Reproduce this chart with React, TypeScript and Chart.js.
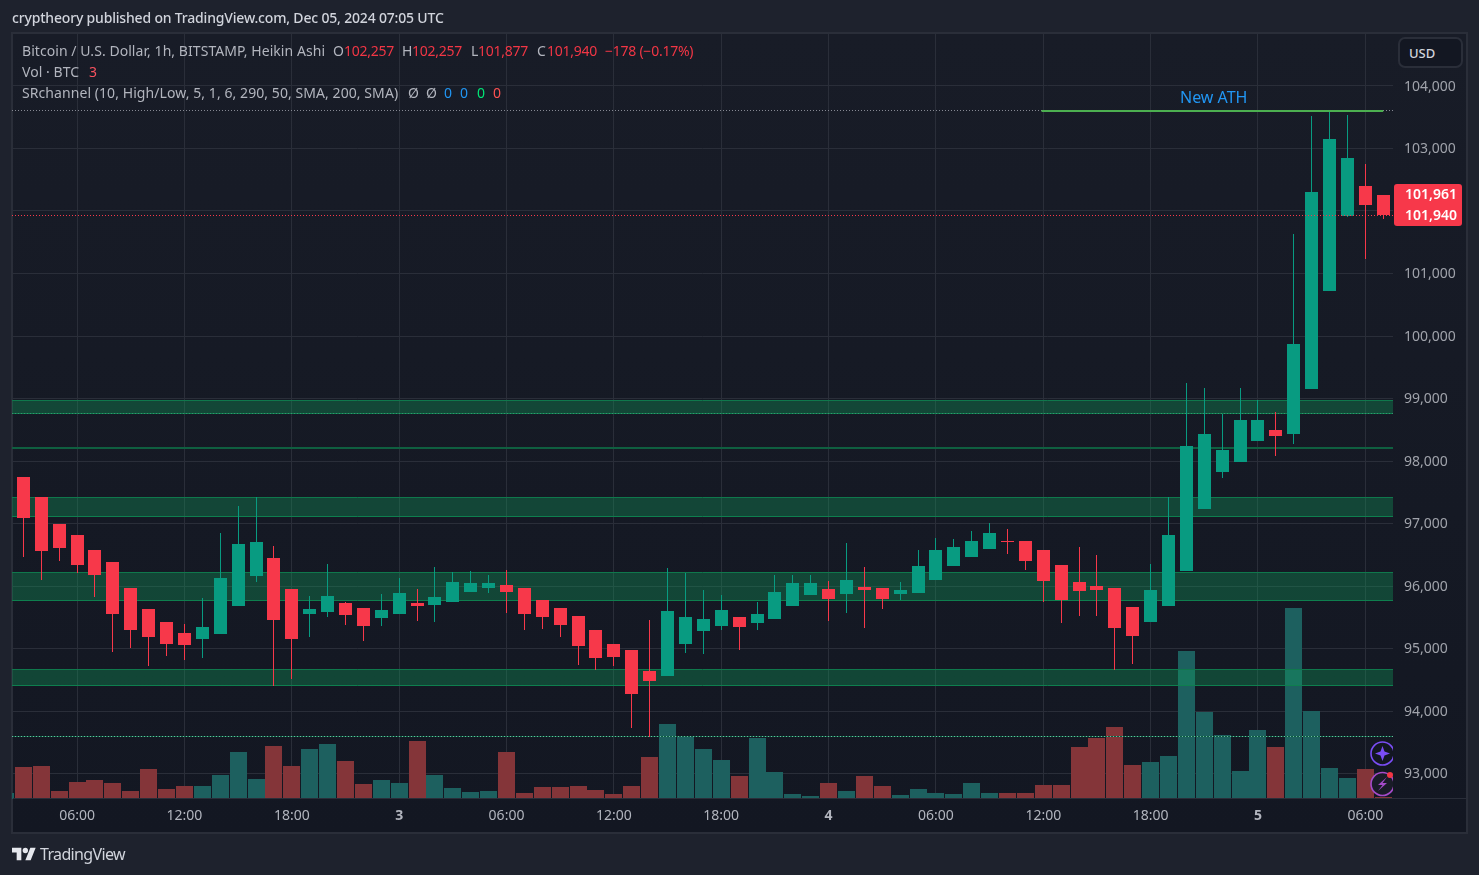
import React, { useEffect, useRef } from "react";
import { Chart, registerables } from "chart.js";

Chart.register(...registerables);

// Hourly Heikin Ashi candles, Dec 2 03:00 to Dec 5 07:00 UTC
const opens = [97744,97424,96992,96816,96576,96384,95968,95632,95424,95248,95157,95237,95685,96165,96448,95952,95557,95589,95728,95648,95493,95557,95728,95701,95749,95909,95973,96016,95968,95776,95648,95520,95296,95072,94976,94640,94565,95077,95285,95365,95504,95413,95477,95685,95861,95952,95877,95984,95968,95877,95893,96101,96325,96469,96597,96720,96720,96576,96336,96064,96000,95968,95664,95429,95685,96245,97237,97829,97989,98325,98496,98437,99152,100720,101925,102400,102257];
const closes = [97093,96565,96613,96336,96176,95557,95301,95189,95077,95061,95344,96128,96672,96704,95461,95157,95632,95840,95541,95365,95616,95888,95685,95824,96064,96048,96048,95909,95557,95509,95381,95045,94853,94869,94277,94485,95600,95504,95472,95616,95349,95552,95904,96048,96048,95797,96096,95941,95797,95936,96320,96576,96624,96720,96848,96704,96405,96085,95781,95925,95941,95333,95205,95936,96816,98240,98432,98176,98656,98656,98405,99872,102304,103152,102848,102101,101940];
const highs = [97744,97424,96992,96816,96576,96384,95968,95632,95424,95392,95808,96848,97280,97424,96640,95952,95840,96352,95744,95648,95872,96128,95952,96304,96224,96240,96176,96256,95968,95776,95648,95520,95296,95072,94976,95456,96288,96213,95936,95856,95504,95744,96176,96176,96176,96080,96688,96304,95968,96064,96576,96768,96752,96880,97008,96912,96720,96576,96336,96624,96496,95968,95664,96352,97424,99248,99168,98752,99168,98976,98784,101632,103520,103600,103536,102752,102257];
const lows = [96469,96101,96405,96213,95829,94949,95013,94725,94885,94821,94853,95237,95685,96069,94405,94517,95189,95509,95381,95125,95365,95557,95445,95429,95749,95909,95893,95573,95301,95317,95189,94741,94661,94725,93733,93589,94565,94933,94917,95301,94981,95301,95477,95685,95861,95445,95573,95333,95637,95781,95893,96101,96325,96469,96597,96517,96261,95749,95413,95525,95525,94661,94757,95429,95685,96245,97237,97733,97989,98325,98085,98277,99152,100720,101904,101237,101877];
const volumes = [64,66,16,34,38,32,16,60,20,26,26,48,94,40,106,66,100,110,76,30,38,32,116,48,22,14,16,94,12,24,24,26,18,10,26,84,150,126,100,78,46,122,54,10,6,32,16,46,26,8,20,12,10,32,12,12,12,28,28,104,122,144,68,74,86,296,174,128,56,138,104,382,176,62,42,60,4];
const previousVolume = 12;

// Time axis: candle position and label
const timeTickPositions = [3,9,15,21,27,33,39,45,51,57,63,69,75];
const timeTickLabels = ["06:00","12:00","18:00","3","06:00","12:00","18:00","4","06:00","12:00","18:00","5","06:00"];
const dayLabels = ["3","4","5"];
const priceTicks = [93000,94000,95000,96000,97000,98000,99000,100000,101000,102000,103000,104000];

// Support and resistance zones
const zoneTops = [98968,97416,96216,94664];
const zoneBottoms = [98760,97112,95768,94408];
const thinZone = 98208;
const athLevel = 103600;
const athStart = 56.9;
const athEnd = 76;
const greyLevel = 103608;
const zoneDottedLevel = 98760;
const lowerDottedLevel = 93592;
const priceLevel = 101928;

const X_MIN = -0.637;
const X_MAX = 76.545;
const Y_MIN = 92592;
const Y_MAX = 104832;
const VOL_MAX = 1530;

const UP = "#089b81";
const DOWN = "#f7384a";
const UP_VOL = "#1d605f";
const DOWN_VOL = "#843539";
const UI_FONT = "'Noto Sans', sans-serif";

const span = (v: number) => [{ x: X_MIN, y: v }, { x: X_MAX, y: v }];

const snapBars = {
  id: "snapBars",
  afterDatasetsUpdate(chart: any) {
    chart.data.datasets.forEach((ds: any, i: number) => {
      if (ds.type !== "bar") return;
      chart.getDatasetMeta(i).data.forEach((el: any) => {
        const w = el.width;
        el.x = Math.round(el.x - w / 2) + w / 2;
        const top = Math.round(Math.min(el.y, el.base));
        let bottom = Math.round(Math.max(el.y, el.base));
        if (bottom <= top) bottom = top + 1;
        el.y = top;
        el.base = bottom;
        el.height = bottom - top;
      });
    });
  },
};

function T({ x, y, c = "#b2b5be", s = 14, w = 400, ls = 0, children }: any) {
  return (
    <div style={{ position: "absolute", left: x, top: y, transform: "translateY(-50%)", color: c, fontSize: s, fontWeight: w, letterSpacing: ls, fontFamily: UI_FONT, whiteSpace: "nowrap", lineHeight: 1 }}>
      {children}
    </div>
  );
}

export default function App() {
  const ref = useRef<HTMLCanvasElement>(null);
  useEffect(() => {
    const isUp = opens.map((o, i) => closes[i] >= o);
    const idx = opens.map((_, i) => i);
    const levelLine = (data: any, color: string, order: number, dash: number[] = [], width = 1): any => ({
      type: "line", data, borderColor: color, borderWidth: width, borderDash: dash, pointRadius: 0, fill: false, order, yAxisID: "y", tension: 0,
    });
    const datasets: any[] = [
      {
        type: "bar", yAxisID: "yVol", order: 10, grouped: false, barThickness: 17, inflateAmount: 0,
        data: [{ x: -1, y: previousVolume }, ...idx.map((i) => ({ x: i, y: volumes[i] }))],
        backgroundColor: [UP_VOL, ...isUp.map((u) => (u ? UP_VOL : DOWN_VOL))],
      },
    ];
    zoneTops.forEach((top, i) => {
      datasets.push({
        type: "line", data: span(top), borderColor: "#0f784c", borderWidth: 1, pointRadius: 0,
        fill: "+1", backgroundColor: "rgba(15,165,95,0.33)", order: 8, yAxisID: "y",
      });
      datasets.push(levelLine(span(zoneBottoms[i]), "#0f784c", 8));
    });
    datasets.push(levelLine(span(thinZone), "#0f5f40", 8, [], 2));
    datasets.push(levelLine(span(lowerDottedLevel), "#0c5e40", 8));
    datasets.push(levelLine(span(zoneDottedLevel), "#3a8f70", 7, [1, 2]));
    datasets.push(levelLine(span(lowerDottedLevel), "#6fb8a2", 7, [1, 2]));
    datasets.push(levelLine(span(greyLevel), "#868993", 7, [1, 2]));
    datasets.push({
      type: "bar", yAxisID: "y", order: 5, grouped: false, barThickness: 1, inflateAmount: 0,
      data: idx.map((i) => ({ x: i, y: [lows[i], highs[i]] })),
      backgroundColor: isUp.map((u) => (u ? UP : DOWN)),
    });
    datasets.push({
      type: "bar", yAxisID: "y", order: 4, grouped: false, barThickness: 13, inflateAmount: 0,
      data: idx.map((i) => ({ x: i, y: [opens[i], closes[i]] })),
      backgroundColor: isUp.map((u) => (u ? UP : DOWN)),
    });
    datasets.push(levelLine(span(priceLevel), DOWN, 3, [1, 2]));
    datasets.push(levelLine([{ x: athStart, y: athLevel }, { x: athEnd, y: athLevel }], "#4caf50", 2, [], 2));

    const chart = new Chart(ref.current as HTMLCanvasElement, {
      type: "bar",
      data: { datasets },
      plugins: [snapBars],
      options: {
        animation: false,
        responsive: false,
        devicePixelRatio: 1,
        layout: { padding: { left: 12, top: 34, right: 0, bottom: 0 } },
        plugins: { legend: { display: false }, tooltip: { enabled: false } },
        scales: {
          x: {
            type: "linear", min: X_MIN, max: X_MAX, offset: false,
            grid: { color: "#2a2e39", drawTicks: false, lineWidth: 1, offset: false },
            border: { display: false },
            afterBuildTicks: (s: any) => { s.ticks = timeTickPositions.map((value) => ({ value })); },
            afterFit: (s: any) => { s.height = 76; },
            ticks: {
              autoSkip: false, maxRotation: 0, padding: 9, color: "#b2b5be",
              font: (c: any) => ({ family: UI_FONT, size: 14, weight: dayLabels.includes(c.tick?.label) ? "bold" : "normal" }),
              callback: (v: any) => timeTickLabels[timeTickPositions.indexOf(Number(v))] ?? "",
            },
          },
          y: {
            type: "linear", position: "right", min: Y_MIN, max: Y_MAX,
            grid: { color: "#2a2e39", drawTicks: false },
            border: { display: false },
            afterBuildTicks: (s: any) => { s.ticks = priceTicks.map((value) => ({ value })); },
            afterFit: (s: any) => { s.width = 86; },
            ticks: { padding: 11, labelOffset: 1, color: "#a0a3ab", font: { family: UI_FONT, size: 14 }, callback: (v: any) => Number(v).toLocaleString("en-US") },
          },
          yVol: { type: "linear", display: false, min: 0, max: VOL_MAX, grid: { display: false } },
        },
      } as any,
    });
    return () => chart.destroy();
  }, []);

  const red = "#f23645";
  return (
    <div style={{ position: "fixed", left: 0, top: 0, width: 1479, height: 875, background: "#1e222d", overflow: "hidden" }}>
      <div style={{ position: "absolute", left: 11, top: 32, width: 1453, height: 798, border: "2px solid #2a2e39", background: "linear-gradient(#181c27,#131722)" }} />
      <canvas ref={ref} width={1479} height={875} style={{ position: "absolute", left: 0, top: 0, width: 1479, height: 875 }} />
      <div style={{ position: "absolute", left: 13, top: 798, width: 1453, height: 1, background: "#2a2e39" }} />

      <T x={12} y={18} c="#d1d4dc" w={500} ls={-0.18}>cryptheory published on TradingView.com, Dec 05, 2024 07:05 UTC</T>

      <T x={22} y={51} ls={0.06}>Bitcoin / U.S. Dollar, 1h, BITSTAMP, Heikin Ashi</T>
      <T x={333} y={51}>O</T><T x={344} y={51} c={red} ls={-0.25}>102,257</T>
      <T x={402} y={51}>H</T><T x={412} y={51} c={red} ls={-0.25}>102,257</T>
      <T x={471} y={51}>L</T><T x={478} y={51} c={red} ls={-0.25}>101,877</T>
      <T x={537} y={51}>C</T><T x={547} y={51} c={red} ls={-0.25}>101,940</T>
      <T x={605} y={51} c={red} ls={-0.25}>−178 (−0.17%)</T>
      <T x={22} y={72} ls={0.05}>Vol · BTC</T><T x={89} y={72} c="#f7525f">3</T>
      <T x={22} y={93} ls={0.07}>SRchannel (10, High/Low, 5, 1, 6, 290, 50, SMA, 200, SMA)</T>
      <T x={408} y={93}>Ø</T><T x={426} y={93}>Ø</T>
      <T x={444} y={93} c="#2196f3">0</T><T x={460} y={93} c="#2196f3">0</T>
      <T x={477} y={93} c="#00e676">0</T><T x={493} y={93} c="#ff5252">0</T>

      <T x={1180} y={97} c="#2196f3" s={16}>New ATH</T>

      <div style={{ position: "absolute", left: 1398, top: 37, width: 61, height: 27, border: "2px solid #2a2e39", borderRadius: 7, background: "#131722" }} />
      <T x={1409} y={53} c="#d1d4dc" s={13} w={500}>USD</T>

      <div style={{ position: "absolute", left: 1394, top: 184, width: 68, height: 42, background: "#f7384a", borderRadius: 3 }} />
      <T x={1405} y={194} c="#ffffff" s={14} w={600}>101,961</T>
      <T x={1405} y={215} c="#ffffff" s={14} w={600}>101,940</T>

      <svg style={{ position: "absolute", left: 1360, top: 735, width: 33, height: 64 }} viewBox="0 0 33 64">
        <circle cx="22.5" cy="18.5" r="11.5" fill="#131722" stroke="#7a4df5" strokeWidth="1.6" />
        <path d="M22.5 11 L24.5 16.5 L30 18.5 L24.5 20.5 L22.5 26 L20.5 20.5 L15 18.5 L20.5 16.5 Z" fill="#7a4df5" />
        <circle cx="22.5" cy="49" r="11.5" fill="#1a1c28" stroke="#a54bc9" strokeWidth="1.6" />
        <path d="M27 42 L18 50 L22.5 50 L18 56 L27 48 L22.5 48 Z" fill="#a54bc9" />
        <circle cx="30" cy="40" r="3" fill="#f23645" />
      </svg>

      <svg style={{ position: "absolute", left: 12, top: 847, width: 24, height: 14 }} viewBox="0 3 36 20" preserveAspectRatio="none">
        <path fill="#e6e8ee" d="M14 22H7V11H0V4h14v18zM28 22h-8l7.5-18h8L28 22z" />
        <circle cx="20" cy="8" r="4" fill="#e6e8ee" />
      </svg>
      <T x={40} y={854} c="#d1d4dc" s={16} ls={-0.65}>TradingView</T>
    </div>
  );
}
